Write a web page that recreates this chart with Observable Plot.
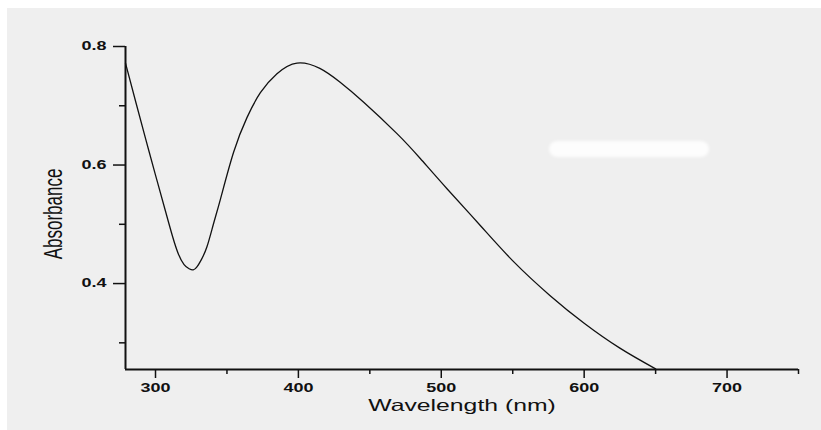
<!DOCTYPE html>
<html><head><meta charset="utf-8">
<script src="https://cdn.jsdelivr.net/npm/d3@7"></script>
<script src="https://cdn.jsdelivr.net/npm/@observablehq/plot@0.6"></script>
<style>
body{margin:0;background:#fff;}
#chart{width:821px;height:430px;position:relative;background:#fff;overflow:hidden;}
#chart svg{position:absolute;left:0;top:0;clip-path:inset(8px 0 0 7px);}
#smudge{position:absolute;left:549px;top:141px;width:160px;height:16px;background:rgba(255,255,255,0.85);border-radius:8px;filter:blur(1.5px);}
</style></head><body><div id="chart"><div id="smudge"></div></div>
<script>
const wavelength = [279, 286, 293, 300, 307, 312, 316, 320, 323.5, 326.4, 329, 332, 336, 340.5, 345.5, 354.7, 364, 373.4, 385, 399, 415, 429, 445.7, 469, 485.3, 504, 527.3, 550.6, 576, 600, 625, 650];
const absorbance = [0.772, 0.708, 0.645, 0.583, 0.522, 0.479, 0.450, 0.432, 0.425, 0.423, 0.428, 0.440, 0.462, 0.500, 0.543, 0.622, 0.680, 0.722, 0.754, 0.772, 0.763, 0.740, 0.706, 0.653, 0.611, 0.560, 0.498, 0.437, 0.380, 0.333, 0.291, 0.256];
const xTicks = [300, 400, 500, 600, 700];
const xMinorTicks = [350, 450, 550, 650, 750];
const yTicks = [0.4, 0.6, 0.8];
const yMinorTicks = [0.3, 0.5, 0.7];
const xLabel = "Wavelength (nm)";
const yLabel = "Absorbance";

const data = wavelength.map((w, i) => ({w, a: absorbance[i]}));

const plot = Plot.plot({
  width: 821, height: 430,
  marginLeft: 125, marginRight: 23, marginTop: 46, marginBottom: 61,
  style: {fontFamily: "'Liberation Sans', Arial, sans-serif", background: "#efefef", color: "#111"},
  x: {domain: [279, 750]},
  y: {domain: [0.255, 0.8]},
  marks: [
    Plot.axisX({ticks: xTicks, tickSize: 9, tickPadding: 5, fontSize: 12, fontWeight: "bold", tickFormat: d => String(d), strokeWidth: 1.5, label: null}),
    Plot.axisX({ticks: xMinorTicks, tickSize: 5, tickFormat: () => "", strokeWidth: 1.5, label: null}),
    Plot.axisY({ticks: yTicks, tickSize: 12, tickPadding: 7, fontSize: 12, fontWeight: "bold", tickFormat: d => d.toFixed(1), strokeWidth: 1.5, label: null}),
    Plot.axisY({ticks: yMinorTicks, tickSize: 6, tickFormat: () => "", strokeWidth: 1.5, label: null}),
    Plot.ruleY([0.255], {strokeWidth: 2, stroke: "#111"}),
    Plot.ruleX([279], {strokeWidth: 2, stroke: "#111"}),
    Plot.line(data, {x: "w", y: "a", curve: "natural", strokeWidth: 1.3, stroke: "#111"}),
    Plot.text([xLabel], {frameAnchor: "bottom", dy: 41, fontSize: 16.5, fill: "#111"}),
    Plot.text([yLabel], {frameAnchor: "left", textAnchor: "middle", rotate: -90, fontSize: 17, fill: "#111"})
  ]
});
document.getElementById("chart").prepend(plot);

// the scanned original is stretched horizontally; widen horizontal text to match
d3.select(plot).selectAll("text").each(function () {
  const t = this.textContent.trim();
  if (!t) return;
  if (t === yLabel) {
    this.removeAttribute("x");
    this.removeAttribute("y");
    this.setAttribute("text-anchor", "middle");
    this.setAttribute("transform", "translate(62,214) rotate(-90) scale(1,1.5)");
    if (this.parentNode && this.parentNode.getAttribute("transform")) this.parentNode.removeAttribute("transform");
    return;
  }
  const len = this.getComputedTextLength();
  this.setAttribute("textLength", (len * 1.5).toFixed(1));
  this.setAttribute("lengthAdjust", "spacingAndGlyphs");
});
</script>
</body></html>
